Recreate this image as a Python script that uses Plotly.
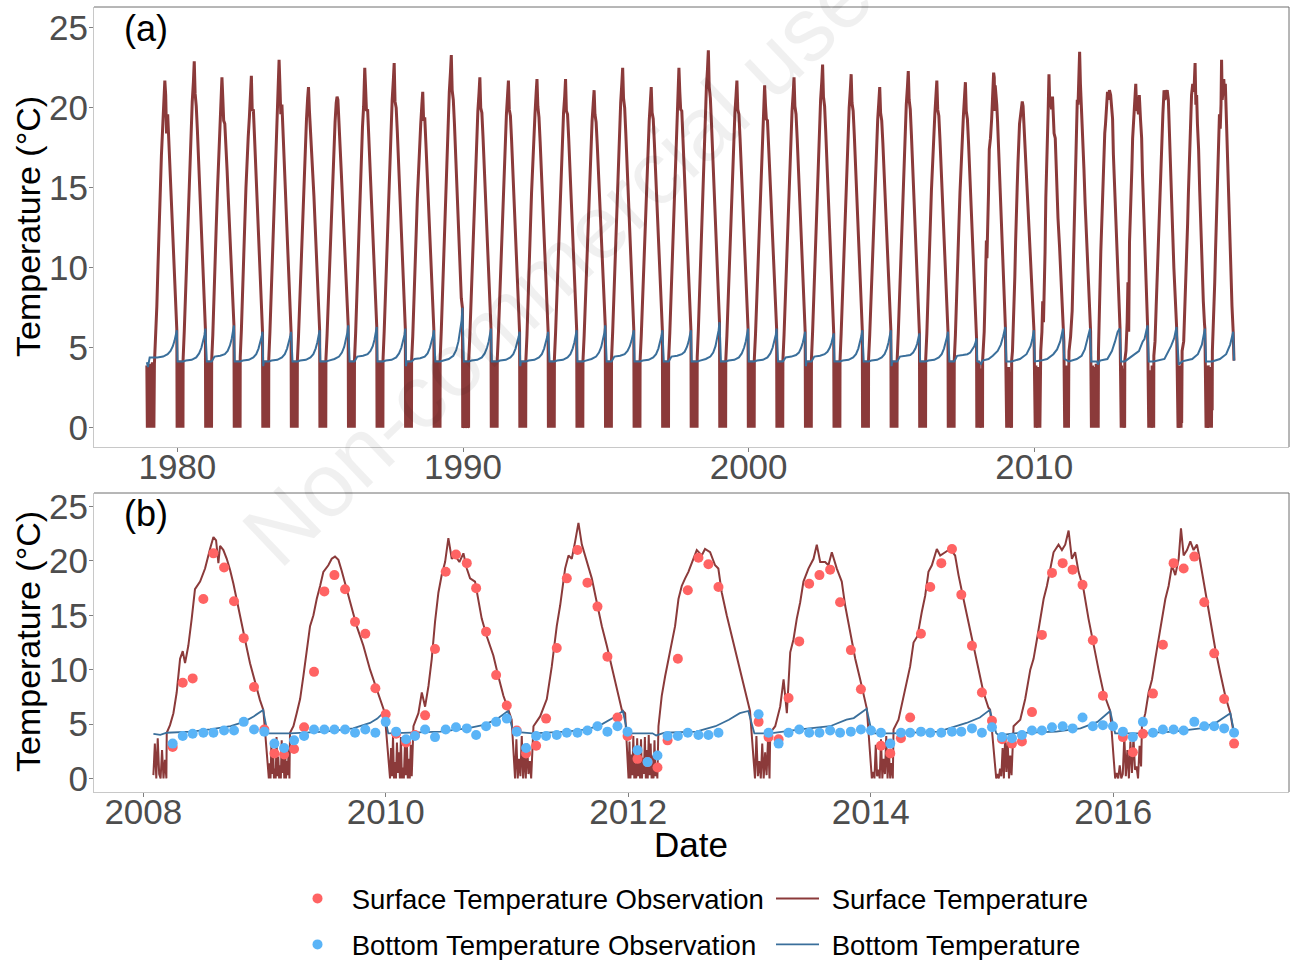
import plotly.graph_objects as go

# ---------------------------------------------------------------------------
# Data (decimal years, degrees C)
# ---------------------------------------------------------------------------

# Panel (a), 1979-2007: modelled surface temperature at fixed points of each
# open-water season (fraction of the calendar year), one row per year.
HIST_YEARS = list(range(1979, 2008))
OPEN_KNOTS = [0.20, 0.24, 0.28, 0.32, 0.36, 0.40, 0.44, 0.48, 0.52, 0.56, 0.59,
              0.62, 0.66, 0.70, 0.74, 0.78, 0.82, 0.86, 0.90, 0.94, 0.98]
HIST_SURFACE = [
    [4.2, 5.6, 7.6, 10.1, 12.9, 15.2, 17.0, 18.6, 19.9, 21.7, 20.8, 18.4, 19.6, 18.0, 16.2, 14.5, 12.8, 11.0, 9.4, 7.7, 6.1],
    [4.3, 6.0, 8.1, 10.6, 13.1, 15.4, 17.3, 19.0, 20.4, 21.6, 22.9, 20.9, 20.1, 18.6, 16.7, 14.8, 13.0, 11.3, 9.6, 7.9, 6.2],
    [4.2, 5.8, 7.7, 10.2, 12.6, 14.7, 16.6, 18.3, 19.8, 21.9, 20.6, 19.2, 19.0, 17.9, 16.1, 14.4, 12.7, 11.0, 9.4, 7.8, 6.4],
    [4.4, 6.1, 8.0, 10.4, 12.8, 15.0, 16.9, 18.2, 19.4, 20.5, 22.0, 19.8, 19.9, 18.2, 16.4, 14.6, 12.8, 11.1, 9.5, 7.8, 6.0],
    [4.3, 6.0, 8.2, 10.8, 13.3, 15.6, 17.6, 19.3, 20.8, 23.0, 21.4, 19.6, 20.2, 18.7, 16.8, 14.9, 13.1, 11.3, 9.6, 7.8, 6.0],
    [4.2, 5.7, 7.6, 9.9, 12.3, 14.5, 16.4, 18.0, 19.3, 20.6, 21.3, 19.9, 18.6, 17.8, 16.2, 14.5, 12.8, 11.1, 9.5, 7.8, 6.1],
    [4.3, 5.8, 7.7, 10.0, 12.4, 14.6, 16.5, 17.9, 19.1, 20.3, 20.7, 20.5, 19.2, 17.6, 15.9, 14.3, 12.6, 11.0, 9.4, 7.8, 6.4],
    [4.2, 5.9, 8.0, 10.5, 13.0, 15.2, 17.2, 18.8, 20.1, 22.5, 21.2, 19.8, 19.9, 18.3, 16.5, 14.7, 12.9, 11.2, 9.6, 7.9, 6.3],
    [4.3, 6.0, 8.1, 10.6, 13.1, 15.3, 17.3, 19.0, 20.5, 21.7, 22.8, 20.4, 20.0, 18.5, 16.6, 14.8, 13.0, 11.3, 9.6, 7.9, 6.2],
    [4.2, 5.7, 7.5, 9.8, 12.1, 14.3, 16.2, 17.8, 19.0, 20.2, 21.0, 19.2, 19.4, 17.8, 16.1, 14.4, 12.7, 11.0, 9.4, 7.8, 6.1],
    [4.3, 6.1, 8.3, 10.9, 13.5, 15.8, 17.9, 19.6, 21.0, 22.2, 23.3, 21.1, 20.5, 19.0, 17.1, 15.2, 13.3, 11.5, 9.8, 8.1, 7.5],
    [4.2, 5.8, 7.8, 10.2, 12.6, 14.8, 16.7, 18.4, 19.8, 20.9, 21.9, 20.0, 19.7, 18.2, 16.4, 14.6, 12.8, 11.1, 9.5, 7.8, 6.2],
    [4.3, 5.9, 7.9, 10.3, 12.6, 14.8, 16.7, 18.3, 19.6, 20.8, 21.7, 19.9, 19.5, 18.0, 16.3, 14.5, 12.8, 11.1, 9.4, 7.7, 6.0],
    [4.2, 5.8, 7.7, 10.1, 12.5, 14.7, 16.6, 18.2, 19.6, 20.9, 21.8, 20.1, 19.4, 17.9, 16.2, 14.5, 12.8, 11.1, 9.4, 7.7, 6.0],
    [4.3, 5.9, 7.9, 10.3, 12.7, 14.9, 16.8, 18.4, 19.7, 20.7, 21.8, 19.8, 19.6, 18.1, 16.3, 14.5, 12.8, 11.1, 9.5, 7.8, 6.1],
    [4.2, 5.7, 7.6, 9.9, 12.2, 14.4, 16.3, 17.9, 19.2, 20.3, 21.1, 19.6, 19.1, 17.7, 16.0, 14.4, 12.7, 11.1, 9.5, 7.9, 6.4],
    [4.3, 6.0, 8.0, 10.5, 13.0, 15.2, 17.2, 18.9, 20.3, 21.5, 22.5, 20.6, 20.0, 18.4, 16.6, 14.7, 12.9, 11.2, 9.5, 7.8, 6.1],
    [4.2, 5.7, 7.6, 9.9, 12.2, 14.4, 16.3, 17.9, 19.2, 20.4, 21.3, 19.7, 19.3, 17.8, 16.1, 14.4, 12.7, 11.0, 9.4, 7.8, 6.1],
    [4.3, 5.9, 8.0, 10.5, 13.0, 15.3, 17.3, 18.9, 20.3, 22.5, 21.0, 19.9, 19.8, 18.2, 16.4, 14.6, 12.9, 11.2, 9.5, 7.8, 6.1],
    [4.4, 6.1, 8.3, 11.0, 13.6, 16.0, 18.1, 19.8, 21.2, 22.4, 23.6, 21.3, 20.6, 19.0, 17.1, 15.2, 13.3, 11.5, 9.8, 8.1, 6.6],
    [4.2, 5.8, 7.8, 10.2, 12.6, 14.8, 16.7, 18.3, 19.7, 20.8, 21.7, 19.9, 19.6, 18.1, 16.3, 14.6, 12.9, 11.2, 9.6, 7.9, 6.2],
    [4.3, 5.8, 7.7, 10.0, 12.4, 14.6, 16.5, 18.1, 19.4, 21.4, 20.2, 19.3, 19.2, 17.8, 16.1, 14.4, 12.7, 11.1, 9.5, 7.9, 6.2],
    [4.2, 5.8, 7.8, 10.2, 12.6, 14.8, 16.8, 18.4, 19.8, 20.9, 21.9, 20.1, 19.6, 18.1, 16.3, 14.5, 12.7, 11.0, 9.3, 7.6, 6.0],
    [4.3, 6.0, 8.1, 10.6, 13.1, 15.4, 17.4, 19.1, 20.5, 21.6, 22.7, 20.7, 20.1, 18.5, 16.6, 14.7, 12.9, 11.1, 9.4, 7.6, 5.9],
    [4.2, 5.9, 7.9, 10.4, 12.8, 15.0, 17.0, 18.6, 20.0, 21.1, 22.1, 20.3, 19.8, 18.3, 16.5, 14.7, 12.9, 11.2, 9.5, 7.8, 6.1],
    [4.3, 5.8, 7.7, 10.0, 12.3, 14.5, 16.4, 18.0, 19.3, 20.4, 21.3, 19.7, 19.2, 17.8, 16.1, 14.4, 12.7, 11.0, 9.4, 7.8, 6.1],
    [4.2, 5.9, 8.0, 10.5, 12.9, 15.1, 17.1, 18.8, 20.2, 21.3, 22.3, 20.5, 19.9, 18.3, 16.4, 14.6, 12.8, 11.0, 9.3, 7.6, 5.9],
    [4.3, 5.9, 7.8, 10.2, 12.6, 14.8, 16.7, 18.3, 19.6, 20.8, 21.7, 19.9, 19.5, 18.0, 16.2, 14.5, 12.7, 11.0, 9.3, 7.6, 6.0],
    [4.2, 5.8, 7.7, 10.1, 12.5, 14.7, 16.6, 18.2, 19.5, 20.7, 21.6, 19.8, 19.3, 17.8, 16.0, 14.2, 12.4, 10.7, 9.0, 7.3, 5.6],
]

# Panel (a), 1979-2007: modelled bottom temperature through each season.
BOTTOM_KNOTS = [0.20, 0.30, 0.50, 0.66, 0.76, 0.84, 0.90, 0.95, 0.98]
HIST_BOTTOM = [
    [4.4, 4.4, 4.45, 4.6, 4.8, 5.1, 5.45, 5.8, 6.1],
    [4.15, 4.2, 4.25, 4.4, 4.65, 5.0, 5.4, 5.8, 6.2],
    [4.15, 4.45, 4.5, 4.6, 4.8, 5.15, 5.55, 5.95, 6.4],
    [4.15, 4.2, 4.25, 4.4, 4.6, 4.95, 5.3, 5.7, 6.0],
    [4.15, 4.2, 4.25, 4.4, 4.6, 4.95, 5.3, 5.7, 6.0],
    [4.15, 4.2, 4.25, 4.4, 4.6, 4.95, 5.35, 5.75, 6.1],
    [4.15, 4.2, 4.3, 4.45, 4.7, 5.05, 5.5, 5.95, 6.4],
    [4.15, 4.45, 4.5, 4.6, 4.8, 5.1, 5.5, 5.9, 6.3],
    [4.15, 4.2, 4.25, 4.4, 4.65, 5.0, 5.4, 5.8, 6.2],
    [4.15, 4.3, 4.35, 4.45, 4.65, 5.0, 5.35, 5.75, 6.1],
    [4.15, 4.2, 4.3, 4.5, 4.85, 5.4, 6.0, 6.7, 7.5],
    [4.15, 4.2, 4.25, 4.4, 4.65, 5.0, 5.4, 5.8, 6.2],
    [4.15, 4.2, 4.25, 4.4, 4.6, 4.95, 5.3, 5.7, 6.0],
    [4.15, 4.2, 4.25, 4.4, 4.6, 4.95, 5.3, 5.7, 6.0],
    [4.15, 4.2, 4.25, 4.4, 4.6, 4.95, 5.35, 5.75, 6.1],
    [4.15, 4.2, 4.3, 4.45, 4.7, 5.05, 5.5, 5.95, 6.4],
    [4.15, 4.45, 4.5, 4.6, 4.8, 5.1, 5.45, 5.8, 6.1],
    [4.15, 4.2, 4.25, 4.4, 4.6, 4.95, 5.35, 5.75, 6.1],
    [4.15, 4.45, 4.5, 4.6, 4.75, 5.05, 5.4, 5.8, 6.1],
    [4.15, 4.2, 4.3, 4.45, 4.7, 5.1, 5.6, 6.1, 6.6],
    [4.15, 4.2, 4.25, 4.4, 4.65, 5.0, 5.4, 5.8, 6.2],
    [4.15, 4.2, 4.25, 4.4, 4.65, 5.0, 5.4, 5.8, 6.2],
    [4.15, 4.4, 4.45, 4.55, 4.7, 5.0, 5.35, 5.7, 6.0],
    [4.15, 4.45, 4.5, 4.6, 4.75, 5.0, 5.3, 5.6, 5.9],
    [4.15, 4.2, 4.25, 4.4, 4.6, 4.95, 5.35, 5.75, 6.1],
    [4.15, 4.2, 4.25, 4.4, 4.6, 4.95, 5.35, 5.75, 6.1],
    [4.15, 4.45, 4.5, 4.55, 4.7, 4.95, 5.25, 5.6, 5.9],
    [4.15, 4.2, 4.25, 4.4, 4.6, 4.95, 5.3, 5.7, 6.0],
    [4.15, 4.5, 4.55, 4.6, 4.7, 4.9, 5.1, 5.35, 5.6],
]
# bottom temperature just after autumn turnover, winter leading into each year
HIST_BOTTOM_FLOOR = [3.8, 4.15, 4.15, 4.15, 3.85, 4.15, 4.15, 4.15, 4.15, 3.85,
                     4.15, 4.15, 4.15, 3.85, 4.15, 4.15, 4.15, 4.15, 4.15, 4.15,
                     4.15, 4.15, 4.15, 3.85, 4.15, 4.15, 3.85, 4.15, 4.15]
BOTTOM_WINTER = 4.15

# start of the record (late 1978)
FIRST_RECORD = 1978.93
FIRST_BOTTOM_T = [1978.93, 1978.97, 1979.03]
FIRST_BOTTOM_V = [4.1, 3.8, 4.4]
FIRST_WINTER = [3.9, 0.0, 3.8, 0.1, 0.0, 4.0, 0.2, 3.7, 0.0, 3.9, 0.1, 4.1, 0.0,
                3.6, 0.0, 4.0]

# surface temperature swings under ice (historical winters)
WINTER_SWINGS = [0.0, 3.9, 0.1, 4.1, 0.0, 3.6, 0.2, 4.2, 0.0, 3.8, 0.1, 4.0,
                 0.0, 3.7, 0.2, 4.2, 0.0, 3.9, 0.1, 4.1, 0.0]

# Panel (b), 2008-2016: ice-covered periods and the surface swings under ice
B_YEARS = [2008, 2009, 2010, 2011, 2012, 2013, 2014, 2015, 2016]
ICE_B = {
    2008: (2008.083, 2008.190), 2009: (2009.035, 2009.205),
    2010: (2010.035, 2010.222), 2011: (2011.066, 2011.210),
    2012: (2012.002, 2012.240), 2013: (2013.045, 2013.165),
    2014: (2014.009, 2014.182), 2015: (2015.035, 2015.172),
    2016: (2016.016, 2016.230),
}
ICE_SWINGS_B = {
    2008: [0.3, 3.2, 0.0, 3.7, 0.4, 0.0, 2.6, 0.0, 1.7, 0.0],
    2009: [0.0, 1.4, 0.0, 3.1, 0.4, 2.6, 0.0, 0.9, 0.0, 3.8, 0.2, 2.0, 0.0, 1.2,
           0.0, 3.5, 0.5, 2.2, 0.0, 3.0, 0.0, 1.6, 0.3, 2.7, 0.0],
    2010: [0.0, 2.8, 0.2, 3.9, 0.0, 1.5, 0.0, 3.3, 0.5, 2.4, 0.0, 3.8, 0.0, 1.0,
           0.0, 2.9, 0.3, 3.6, 0.0, 1.8, 0.0, 3.1, 0.2, 4.0],
    2011: [0.0, 3.6, 0.0, 1.8, 0.2, 3.9, 0.0, 2.5, 0.0, 3.2, 0.4, 1.6, 0.0, 3.8],
    2012: [0.0, 3.4, 0.0, 2.2, 0.3, 3.9, 0.0, 1.4, 0.0, 3.7, 0.2, 2.9, 0.0, 3.6,
           0.0, 1.9, 0.4, 3.8, 0.0, 2.6, 0.0, 4.0, 0.3, 3.2, 0.0, 2.1, 0.0, 3.5,
           0.2, 1.2, 0.0],
    2013: [0.0, 3.9, 0.2, 1.6, 0.0, 3.2, 0.0, 2.4, 0.3, 3.7, 0.0],
    2014: [0.0, 0.6, 0.0, 3.1, 0.2, 0.8, 0.0, 3.6, 0.0, 1.8, 0.4, 3.9, 0.0, 2.6,
           0.0, 1.4, 0.0],
    2015: [0.0, 0.4, 0.0, 0.9, 0.2, 2.8, 0.0, 3.9, 0.6, 3.3, 0.0, 2.1, 0.3, 3.6],
    2016: [0.0, 0.5, 0.0, 1.2, 0.0, 0.4, 3.9, 0.2, 2.6, 0.0, 3.4, 0.5, 3.8, 0.8,
           1.1, 0.0, 3.0, 1.1],
}

# Panel (b): modelled surface temperature through each open-water season
OPEN_T = {
    2008: [2008.193, 2008.220, 2008.248, 2008.275, 2008.303, 2008.325, 2008.344, 2008.371,
           2008.399, 2008.426, 2008.468, 2008.509, 2008.550, 2008.578, 2008.600, 2008.619,
           2008.633, 2008.660, 2008.688, 2008.715, 2008.743, 2008.770, 2008.798, 2008.825,
           2008.853, 2008.880, 2008.908, 2008.935, 2008.962, 2008.990],
    2009: [2009.210, 2009.238, 2009.265, 2009.293, 2009.320, 2009.348, 2009.375, 2009.403,
           2009.430, 2009.458, 2009.485, 2009.526, 2009.554, 2009.581, 2009.609, 2009.636,
           2009.678, 2009.719, 2009.760, 2009.815, 2009.870, 2009.925, 2009.966, 2009.990],
    2010: [2010.228, 2010.269, 2010.297, 2010.324, 2010.352, 2010.379, 2010.406, 2010.434,
           2010.461, 2010.489, 2010.516, 2010.544, 2010.571, 2010.607, 2010.640, 2010.668,
           2010.695, 2010.736, 2010.764, 2010.791, 2010.832, 2010.887, 2010.928, 2010.970,
           2011.011, 2011.038],
    2011: [2011.218, 2011.273, 2011.328, 2011.369, 2011.410, 2011.438, 2011.479, 2011.507,
           2011.534, 2011.562, 2011.589, 2011.617, 2011.644, 2011.672, 2011.699, 2011.740,
           2011.782, 2011.823, 2011.864, 2011.905, 2011.947, 2011.974],
    2012: [2012.249, 2012.276, 2012.304, 2012.331, 2012.359, 2012.386, 2012.414, 2012.441,
           2012.469, 2012.496, 2012.537, 2012.565, 2012.606, 2012.633, 2012.675, 2012.716,
           2012.743, 2012.771, 2012.812, 2012.853, 2012.895, 2012.936, 2012.977, 2013.004],
    2013: [2013.171, 2013.212, 2013.253, 2013.281, 2013.308, 2013.336, 2013.363, 2013.390,
           2013.418, 2013.445, 2013.486, 2013.528, 2013.555, 2013.583, 2013.624, 2013.651,
           2013.679, 2013.720, 2013.761, 2013.789, 2013.830, 2013.872, 2013.913, 2013.954,
           2013.968],
    2014: [2014.188, 2014.229, 2014.270, 2014.298, 2014.325, 2014.353, 2014.386, 2014.421,
           2014.449, 2014.476, 2014.504, 2014.545, 2014.573, 2014.614, 2014.655, 2014.696,
           2014.724, 2014.765, 2014.806, 2014.848, 2014.889, 2014.930, 2014.971, 2014.985],
    2015: [2015.178, 2015.233, 2015.274, 2015.316, 2015.343, 2015.371, 2015.398, 2015.426,
           2015.453, 2015.481, 2015.508, 2015.549, 2015.577, 2015.604, 2015.632, 2015.659,
           2015.686, 2015.714, 2015.755, 2015.796, 2015.837, 2015.879, 2015.920, 2015.961,
           2015.975],
    2016: [2016.237, 2016.265, 2016.292, 2016.320, 2016.347, 2016.375, 2016.402, 2016.430,
           2016.457, 2016.485, 2016.512, 2016.540, 2016.559, 2016.581, 2016.609, 2016.636,
           2016.663, 2016.691, 2016.718, 2016.760, 2016.801, 2016.842, 2016.883, 2016.924,
           2016.966, 2016.993],
}
OPEN_V = {
    2008: [4.2, 4.9, 6.0, 7.9, 11.0, 11.7, 10.6, 12.2, 14.7, 17.4, 18.1, 19.3, 21.1, 22.2,
           21.9, 19.8, 21.4, 21.0, 20.2, 19.2, 17.9, 16.4, 14.8, 13.3, 12.0, 10.6, 9.5, 8.2,
           7.2, 6.3],
    2009: [4.2, 4.8, 6.0, 7.3, 9.4, 11.6, 14.0, 15.0, 16.5, 17.7, 19.0, 19.6, 20.2, 20.4,
           20.1, 19.1, 17.4, 15.6, 14.0, 12.2, 10.0, 8.2, 6.8, 6.1],
    2010: [4.8, 6.0, 7.9, 6.6, 8.5, 11.0, 14.4, 17.1, 18.7, 19.9, 22.1, 20.2, 20.5, 19.9,
           20.7, 19.3, 18.4, 18.1, 16.2, 14.7, 13.1, 11.3, 9.4, 7.6, 6.3, 5.4],
    2011: [4.8, 5.7, 7.3, 10.3, 14.0, 15.9, 19.3, 20.5, 20.2, 21.8, 23.5, 21.5, 20.5, 19.6,
           18.4, 16.2, 14.0, 12.2, 10.3, 8.2, 6.3, 6.0],
    2012: [4.8, 7.6, 9.4, 11.0, 12.5, 14.0, 16.5, 17.7, 18.4, 19.0, 20.2, 21.0, 20.5, 21.1,
           20.8, 19.6, 19.3, 17.1, 15.0, 13.1, 11.3, 9.4, 7.6, 6.2],
    2013: [4.2, 4.8, 6.6, 9.1, 6.0, 11.6, 12.8, 14.7, 16.2, 18.1, 19.3, 20.2, 21.5, 19.9,
           19.9, 19.6, 20.8, 19.3, 18.1, 15.9, 13.4, 11.0, 9.1, 6.9, 6.4],
    2014: [4.5, 5.4, 7.6, 9.1, 10.3, 12.5, 13.1, 15.3, 16.8, 19.0, 19.6, 21.1, 20.5, 20.8,
           21.1, 20.5, 18.7, 16.5, 14.4, 12.2, 10.0, 7.9, 6.5, 6.3],
    2015: [4.8, 5.4, 7.3, 10.0, 11.0, 12.8, 14.7, 16.5, 17.7, 19.3, 20.8, 21.5, 21.0, 21.5,
           22.8, 20.2, 20.8, 19.0, 17.4, 14.7, 12.2, 10.0, 7.9, 6.5, 6.2],
    2016: [4.8, 6.0, 7.9, 9.1, 11.0, 12.8, 14.7, 16.5, 17.7, 19.6, 18.7, 20.2, 23.0, 20.5,
           21.0, 21.8, 21.0, 21.5, 19.9, 17.1, 14.4, 11.9, 9.7, 7.6, 6.0, 4.2],
}

# Panel (b): modelled bottom temperature
BOTTOM_B_T = [2008.083, 2008.140, 2008.193, 2008.400, 2008.550, 2008.720, 2008.830, 2008.910,
              2008.988, 2009.025, 2009.210, 2009.500, 2009.730, 2009.870, 2009.930, 2009.985,
              2010.020, 2010.230, 2010.450, 2010.670, 2010.800, 2010.910, 2011.007, 2011.050,
              2011.210, 2011.490, 2011.660, 2011.770, 2011.880, 2011.955, 2011.995, 2012.200,
              2012.230, 2012.300, 2012.560, 2012.720, 2012.830, 2012.920, 2012.990, 2013.040,
              2013.170, 2013.418, 2013.665, 2013.800, 2013.860, 2013.966, 2014.010, 2014.180,
              2014.560, 2014.790, 2014.900, 2014.982, 2015.035, 2015.060, 2015.180, 2015.530,
              2015.730, 2015.870, 2015.975, 2016.016, 2016.230, 2016.500, 2016.720, 2016.860,
              2016.966, 2016.999]
BOTTOM_B_V = [4.10, 4.00, 4.20, 4.30, 4.50, 4.80, 5.20, 5.70,
              6.30, 4.15, 4.15, 4.30, 4.60, 5.10, 5.50, 6.10,
              4.15, 4.20, 4.30, 4.60, 4.90, 5.40, 6.20, 4.30,
              4.15, 4.30, 4.50, 4.90, 5.60, 6.20, 4.15, 4.15,
              3.95, 4.20, 4.30, 4.80, 5.40, 6.00, 6.20, 4.15,
              4.15, 4.50, 4.80, 5.40, 5.55, 6.40, 4.15, 4.15,
              4.30, 5.10, 5.60, 6.30, 4.15, 3.95, 4.15, 4.30,
              4.60, 5.20, 6.20, 4.15, 4.15, 4.30, 4.60, 5.20,
              6.00, 4.20]

# Panel (b): monthly observations
OBS_T = [2008.242, 2008.325, 2008.407, 2008.495, 2008.578, 2008.666, 2008.748, 2008.828, 2008.913, 2008.998,
         2009.081, 2009.161, 2009.243, 2009.326, 2009.408, 2009.493, 2009.576, 2009.664, 2009.746, 2009.831, 2009.914, 2009.999,
         2010.085, 2010.167, 2010.240, 2010.324, 2010.406, 2010.494, 2010.579, 2010.668, 2010.745, 2010.827, 2010.910, 2010.998,
         2011.080, 2011.157, 2011.240, 2011.322, 2011.410, 2011.493, 2011.581, 2011.663, 2011.746, 2011.828, 2011.911, 2011.994,
         2012.076, 2012.159, 2012.241, 2012.324, 2012.409, 2012.491, 2012.579, 2012.661, 2012.744,
         2013.075, 2013.157, 2013.240, 2013.322, 2013.410, 2013.492, 2013.577, 2013.665, 2013.747, 2013.836, 2013.919, 2014.002,
         2014.084, 2014.161, 2014.249, 2014.325, 2014.414, 2014.491, 2014.582, 2014.670, 2014.747, 2014.835, 2014.917, 2015.000,
         2015.083, 2015.165, 2015.247, 2015.330, 2015.412, 2015.495, 2015.583, 2015.665, 2015.747, 2015.832, 2015.915, 2015.998,
         2016.080, 2016.162, 2016.245, 2016.328, 2016.410, 2016.498, 2016.581, 2016.669, 2016.751, 2016.833, 2016.915, 2016.997]
OBS_SURFACE = [2.9, 8.8, 9.2, 16.5, 20.7, 19.4, 16.3, 12.9, 8.4, 4.5,
               2.3, 2.2, 2.7, 4.7, 9.8, 17.2, 18.7, 17.4, 14.4, 13.3, 8.3, 5.9,
               4.1, 3.3, 4.0, 5.8, 11.9, 19.0, 20.6, 19.8, 17.5, 13.5, 9.5, 6.7,
               4.4, 2.3, 3.0, 5.5, 12.0, 18.4, 21.0, 18.0, 15.8, 11.2, 5.6, 3.9,
               1.8, 1.5, 1.0, 3.5, 11.0, 17.3, 20.3, 19.7, 17.6,
               5.2, 3.8, 3.6, 7.4, 12.6, 17.9, 18.7, 19.2, 16.2, 11.8, 8.2, None,
               3.0, 2.3, 3.7, 5.6, 13.3, 17.6, 19.8, 21.1, 16.9, 12.2, 7.9, 5.3,
               3.6, 3.2, 3.4, 6.1, 13.2, 18.9, 19.8, 19.2, 17.8, 12.7, 7.6, None,
               3.8, 2.4, 4.1, 7.8, 12.3, 19.8, 19.3, 20.4, 16.2, 11.5, 7.3, 3.2]
OBS_BOTTOM = [3.2, 3.9, 4.1, 4.2, 4.2, 4.4, 4.4, 5.2, 4.5, 4.3,
              3.2, 2.8, 3.5, 3.9, 4.5, 4.5, 4.5, 4.5, 4.2, 4.5, 4.2, 5.2,
              4.3, 3.6, 3.9, 4.5, 3.8, 4.5, 4.7, 4.6, 4.0, 4.8, 5.2, 5.5,
              4.3, 2.8, 3.9, 3.9, 4.0, 4.2, 4.2, 4.4, 4.8, 4.3, 4.8, 4.3,
              2.6, 1.5, 2.1, 3.9, 3.9, 4.2, 4.0, 4.0, 4.2,
              5.9, 4.2, 3.2, 4.2, 4.5, 4.2, 4.2, 4.4, 4.2, 4.3, 4.5, 4.4,
              4.2, 3.2, 4.2, 4.2, 4.3, 4.2, 4.2, 4.3, 4.3, 4.6, 4.2, 4.7,
              3.8, 3.7, 4.0, 4.4, 4.4, 4.7, 4.8, 4.6, 5.6, 4.8, 4.9, 4.8,
              4.3, 3.8, 5.2, 4.2, 4.5, 4.5, 4.4, 5.2, 4.8, 4.8, 4.6, 4.2]

TICKS_A = [1980, 1990, 2000, 2010]
TICKS_B = [2008, 2010, 2012, 2014, 2016]
TICKS_Y = [0, 5, 10, 15, 20, 25]

# ---------------------------------------------------------------------------
# Assemble the continuous series
# ---------------------------------------------------------------------------

def spread(t0, t1, values):
    """Place a run of under-ice readings evenly across an ice-covered period."""
    n = len(values)
    return [t0 + (t1 - t0) * i / (n - 1) for i in range(n)], list(values)


# panel (b) surface
surf_b_t, surf_b_v = [], []
for yr in B_YEARS:
    t0, t1 = ICE_B[yr]
    ts, vs = spread(t0, t1, ICE_SWINGS_B[yr])
    surf_b_t += ts
    surf_b_v += vs
    surf_b_t += OPEN_T[yr]
    surf_b_v += OPEN_V[yr]

# panel (a) surface: 1979-2007 seasons followed by the 2008-2016 record
surf_a_t, surf_a_v = [], []
for i, yr in enumerate(HIST_YEARS):
    if i == 0:
        ts, vs = spread(FIRST_RECORD, yr + 0.195, FIRST_WINTER)
    else:
        ts, vs = spread(yr - 0.01, yr + 0.195, WINTER_SWINGS)
    surf_a_t += ts
    surf_a_v += vs
    surf_a_t += [yr + k for k in OPEN_KNOTS]
    surf_a_v += HIST_SURFACE[i]
ts, vs = spread(2007.99, 2008.078, WINTER_SWINGS)
surf_a_t += ts + surf_b_t
surf_a_v += vs + surf_b_v

# panel (a) bottom
bot_a_t, bot_a_v = list(FIRST_BOTTOM_T), list(FIRST_BOTTOM_V)
for i, yr in enumerate(HIST_YEARS):
    if i > 0:
        bot_a_t += [yr + 0.005, yr + 0.03]
        bot_a_v += [HIST_BOTTOM_FLOOR[i], BOTTOM_WINTER]
    bot_a_t += [yr + k for k in BOTTOM_KNOTS]
    bot_a_v += HIST_BOTTOM[i]
bot_a_t += [2008.005] + BOTTOM_B_T
bot_a_v += [BOTTOM_WINTER] + BOTTOM_B_V

# ---------------------------------------------------------------------------
# Figure
# ---------------------------------------------------------------------------
FONT = "Liberation Sans, Arial, sans-serif"
C_SURF = "#8B3A3A"
C_BOT = "#3A6F9B"
C_SURF_OBS = "#FF6363"
C_BOT_OBS = "#5AB4F7"
TICK_GREY = "#4D4D4D"
NBSP = "\u00a0"

W, H = 1293, 960
ML, MR, MT, MB = 94, 4, 7, 168
PW, PH = W - ML - MR, H - MT - MB


def fx(px):
    return (px - ML) / PW


def fy(py):
    return (H - MB - py) / PH


DOM_A = [fy(447), 1.0]
DOM_B = [0.0, fy(493)]

fig = go.Figure()

fig.add_trace(go.Scatter(x=surf_a_t, y=surf_a_v, mode="lines", xaxis="x", yaxis="y",
                         line=dict(color=C_SURF, width=3.0), showlegend=False,
                         hoverinfo="skip"))
fig.add_trace(go.Scatter(x=bot_a_t, y=bot_a_v, mode="lines", xaxis="x", yaxis="y",
                         line=dict(color=C_BOT, width=2.0), showlegend=False,
                         hoverinfo="skip"))

# legend row 1: surface; legend row 2: bottom
fig.add_trace(go.Scatter(x=surf_b_t, y=surf_b_v, mode="lines", xaxis="x2", yaxis="y2",
                         name=NBSP + "Surface Temperature", legend="legend", legendrank=2,
                         line=dict(color=C_SURF, width=2.0)))
fig.add_trace(go.Scatter(x=BOTTOM_B_T, y=BOTTOM_B_V, mode="lines", xaxis="x2", yaxis="y2",
                         name=NBSP + "Bottom Temperature", legend="legend2", legendrank=2,
                         line=dict(color=C_BOT, width=1.8)))
fig.add_trace(go.Scatter(x=OBS_T, y=OBS_SURFACE, mode="markers", xaxis="x2", yaxis="y2",
                         name=NBSP + "Surface Temperature Observation", legend="legend",
                         legendrank=1, marker=dict(color=C_SURF_OBS, size=10)))
fig.add_trace(go.Scatter(x=OBS_T, y=OBS_BOTTOM, mode="markers", xaxis="x2", yaxis="y2",
                         name=NBSP + "Bottom Temperature Observation", legend="legend2",
                         legendrank=1, marker=dict(color=C_BOT_OBS, size=10)))

axis_common = dict(showgrid=False, zeroline=False, showline=True, linecolor="#C8C8C8",
                   linewidth=1, ticks="outside", ticklen=4, tickwidth=1,
                   tickcolor="#7F7F7F", tickfont=dict(size=35, color=TICK_GREY, family=FONT))

legend_common = dict(orientation="h", xanchor="left", yanchor="top",
                     font=dict(size=27.5, color="black", family=FONT),
                     itemwidth=43, entrywidth=422, entrywidthmode="pixels",
                     bgcolor="rgba(0,0,0,0)", traceorder="normal")

fig.update_layout(
    width=W, height=H,
    margin=dict(l=ML, r=MR, t=MT, b=MB, autoexpand=False),
    paper_bgcolor="white", plot_bgcolor="white",
    font=dict(family=FONT),
    xaxis=dict(domain=[0, 1], anchor="y", range=[1977.08, 2018.92],
               tickvals=TICKS_A, ticktext=[str(v) for v in TICKS_A],
               ticklabelstandoff=-15, **axis_common),
    yaxis=dict(domain=DOM_A, anchor="x", range=[-1.2, 26.3], tickvals=TICKS_Y,
               ticklabelstandoff=-6, **axis_common),
    xaxis2=dict(domain=[0, 1], anchor="y2", range=[2007.593, 2017.45],
                tickvals=TICKS_B, ticktext=[str(v) for v in TICKS_B],
                ticklabelstandoff=-15, **axis_common),
    yaxis2=dict(domain=DOM_B, anchor="x2", range=[-1.25, 26.25], tickvals=TICKS_Y,
                ticklabelstandoff=-6, **axis_common),
    legend=dict(x=fx(291), y=fy(874), **legend_common),
    legend2=dict(x=fx(291), y=fy(920), **legend_common),
    showlegend=True,
)

# darker top and right edges of each panel frame
for y0, y1 in (DOM_A, DOM_B):
    fig.add_shape(type="line", xref="paper", yref="paper", x0=0, x1=1, y0=y1, y1=y1,
                  line=dict(color="#6E6E6E", width=1))
    fig.add_shape(type="line", xref="paper", yref="paper", x0=1, x1=1, y0=y0, y1=y1,
                  line=dict(color="#6E6E6E", width=1))

# axis titles
for yc in (227, 642):
    fig.add_annotation(text="Temperature (°C)", xref="paper", yref="paper",
                       x=fx(28), y=fy(yc), xanchor="center", yanchor="middle",
                       textangle=-90, showarrow=False,
                       font=dict(size=34, color="black", family=FONT))
fig.add_annotation(text="Date", xref="paper", yref="paper", x=fx(691), y=fy(844),
                   xanchor="center", yanchor="middle", showarrow=False,
                   font=dict(size=35, color="black", family=FONT))

# panel tags
fig.add_annotation(text="(a)", xref="paper", yref="paper", x=fx(122), y=fy(6),
                   xanchor="left", yanchor="top", showarrow=False,
                   font=dict(size=36, color="black", family=FONT))
fig.add_annotation(text="(b)", xref="paper", yref="paper", x=fx(122), y=fy(491),
                   xanchor="left", yanchor="top", showarrow=False,
                   font=dict(size=36, color="black", family=FONT))
fig.add_annotation(text="Non-commercial use", xref="paper", yref="paper",
                   x=fx(557), y=fy(265), xanchor="center", yanchor="middle",
                   textangle=-43.5, showarrow=False,
                   font=dict(size=90, color="rgba(0,0,0,0.06)", family=FONT))

fig.write_html("out.html")
